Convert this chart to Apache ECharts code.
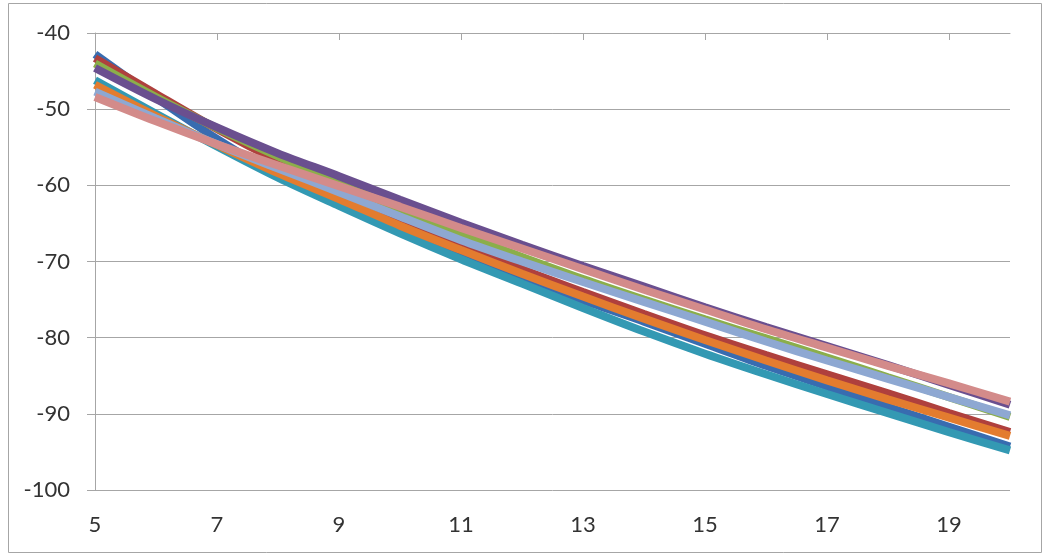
<!DOCTYPE html>
<html>
<head>
<meta charset="utf-8">
<script src="https://cdn.jsdelivr.net/npm/echarts@6/dist/echarts.min.js"></script>
<style>html,body{margin:0;padding:0;background:#fff}#c{width:1042px;height:553px}</style>
</head>
<body>
<div id="c"></div>
<script>
const xValues = [5, 6, 7, 8, 9, 10, 11, 12, 13, 14, 15, 16, 17, 18, 19, 20];
const xTickLabels = [5, 7, 9, 11, 13, 15, 17, 19];
const seriesNames = ['S1', 'S2', 'S3', 'S4', 'S5', 'S6', 'S7', 'S8'];
const s1Blue   = [-42.8, -48.5, -53.9, -58.6, -62.2, -65.8, -69.0, -72.1, -75.1, -77.9, -80.8, -83.7, -86.4, -89.1, -91.7, -94.3];
const s2Red    = [-43.3, -48.0, -52.6, -56.8, -60.6, -64.4, -67.8, -71.0, -74.0, -76.9, -79.7, -82.3, -84.8, -87.3, -89.9, -92.4];
const s3Green  = [-44.0, -48.4, -52.5, -56.2, -59.6, -63.2, -66.4, -69.4, -72.3, -75.0, -77.6, -80.1, -82.6, -85.2, -87.8, -90.4];
const s4Purple = [-44.6, -48.7, -52.4, -55.8, -58.8, -61.9, -64.9, -67.8, -70.6, -73.3, -76.0, -78.6, -81.1, -83.6, -86.2, -88.8];
const s5Teal   = [-46.2, -50.6, -54.9, -59.0, -62.7, -66.3, -69.7, -72.9, -76.1, -79.2, -82.1, -84.8, -87.4, -89.9, -92.4, -94.8];
const s6Orange = [-46.8, -50.9, -54.7, -58.4, -61.8, -65.3, -68.5, -71.6, -74.6, -77.5, -80.3, -83.0, -85.6, -88.1, -90.5, -92.9];
const s7LtBlue = [-47.7, -51.2, -54.6, -57.8, -60.9, -64.1, -67.2, -70.0, -72.7, -75.3, -77.9, -80.5, -83.0, -85.4, -87.8, -90.2];
const s8Pink   = [-48.4, -51.6, -54.6, -57.4, -60.1, -62.8, -65.6, -68.3, -71.0, -73.7, -76.3, -78.9, -81.3, -83.7, -86.0, -88.4];

const allSeries = [s1Blue, s2Red, s3Green, s4Purple, s5Teal, s6Orange, s7LtBlue, s8Pink];
const colors = ['#386CB0', '#AF403D', '#8BAE4A', '#6A4F8F', '#3399B3', '#E37C2F', '#8EA8D2', '#D38B8A'];

const chart = echarts.init(document.getElementById('c'), null, {renderer: 'canvas'});
const gridColor = '#A6A6A6';
const textStyle = {color: '#333333', fontFamily: 'Lato', fontSize: 22};

chart.setOption({
  animation: false,
  backgroundColor: '#ffffff',
  graphic: [{
    type: 'rect',
    shape: {x: 8.5, y: 3.5, width: 1033, height: 549},
    style: {fill: 'none', stroke: '#A6A6A6', lineWidth: 1},
    silent: true
  }],
  grid: {left: 95, right: 32, top: 33, bottom: 63},
  xAxis: [{
    type: 'value', position: 'top', min: 5, max: 20,
    axisLine: {show: true, lineStyle: {color: gridColor, width: 1}},
    axisTick: {show: true, inside: true, length: 7, customValues: xTickLabels, lineStyle: {color: gridColor}},
    axisLabel: {show: false},
    splitLine: {show: false}
  }, {
    type: 'value', position: 'bottom', min: 5, max: 20,
    axisLine: {show: false},
    axisTick: {show: false},
    axisLabel: Object.assign({show: true, margin: 24, customValues: xTickLabels}, textStyle),
    splitLine: {show: false}
  }],
  yAxis: {
    type: 'value', min: -100, max: -40, interval: 10,
    axisLine: {show: true, lineStyle: {color: gridColor, width: 1}},
    axisTick: {show: true, inside: false, length: 8, lineStyle: {color: gridColor}},
    axisLabel: Object.assign({margin: 25}, textStyle),
    splitLine: {show: true, lineStyle: {color: gridColor, width: 1}}
  },
  series: allSeries.map((vals, i) => ({
    name: seriesNames[i],
    type: 'line',
    xAxisIndex: 0,
    data: xValues.map((x, j) => [x, vals[j]]),
    showSymbol: false,
    smooth: 0.3,
    lineStyle: {color: colors[i], width: 8},
    itemStyle: {color: colors[i]},
    z: 2 + i
  }))
});
</script>
</body>
</html>
